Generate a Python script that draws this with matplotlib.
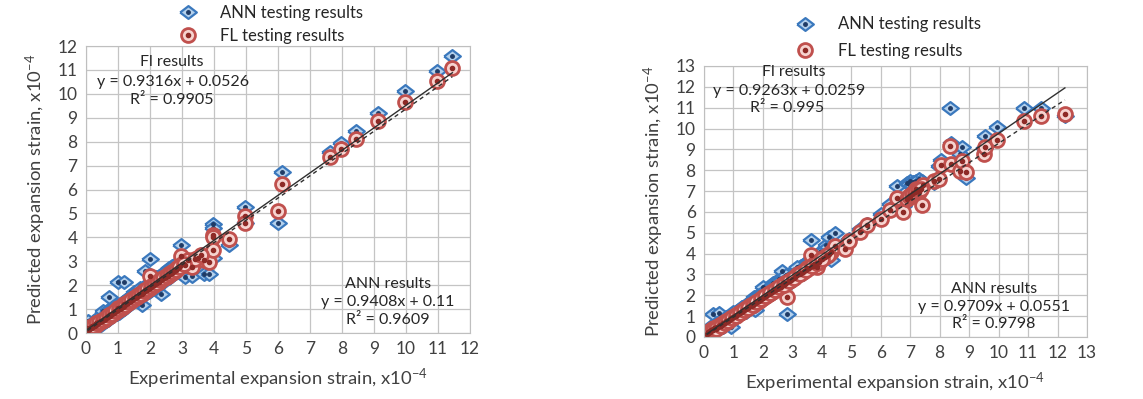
import matplotlib
matplotlib.use("Agg")
import matplotlib.pyplot as plt
from matplotlib.lines import Line2D
import numpy as np

plt.rcParams["font.family"] = ["Lato", "DejaVu Sans"]
plt.rcParams["mathtext.fontset"] = "custom"
plt.rcParams["mathtext.rm"] = "Lato"

# ---- left panel: experimental strain vs ANN / FL predictions (x1e-4) ----
exp_a = [0.05, 0.05, 0.08, 0.1, 0.12, 0.15, 0.18, 0.2, 0.22, 0.25, 0.28, 0.3, 0.33, 0.35,
         0.4, 0.42, 0.45, 0.5, 0.52, 0.55, 0.6, 0.65, 0.7, 0.73, 0.75, 0.8, 0.85, 0.9,
         0.95, 1.0, 1.0, 1.05, 1.1, 1.15, 1.2, 1.25, 1.3, 1.35, 1.4, 1.45, 1.5, 1.55,
         1.6, 1.65, 1.7, 1.76, 1.8, 1.85, 1.9, 1.95, 2.0, 2.0, 2.05, 2.1, 2.15, 2.2,
         2.25, 2.3, 2.36, 2.4, 2.45, 2.5, 2.55, 2.6, 2.65, 2.7, 2.75, 2.8, 2.85, 2.9,
         2.95, 2.97, 3.1, 3.3, 3.5, 3.7, 3.85, 3.98, 3.98, 3.98, 4.46, 4.97, 4.97,
         5.99, 6.13, 7.64, 7.97, 8.44, 9.13, 9.97, 10.97, 11.45,
         0.1, 0.15, 0.2, 0.25, 0.3, 0.38, 0.48, 0.58, 0.68, 0.78, 0.88, 0.98, 1.08,
         1.18, 1.28, 1.38, 1.48, 1.58, 1.68, 1.78, 1.88, 1.98, 2.08, 2.18, 2.28, 2.38,
         2.48, 2.58, 2.68, 2.78, 2.88, 3.0, 3.2, 3.4, 3.6,
         0.12, 0.22, 0.32, 0.42, 0.52, 0.62, 0.72, 0.82, 0.92, 1.02, 1.12, 1.22, 1.32,
         1.42, 1.52, 1.62, 1.72, 1.82, 1.92, 2.02, 2.12, 2.22, 2.32, 2.42, 2.52, 2.62,
         2.72, 2.82, 2.92, 3.05]
ann_a = [0.52, 0.15, 0.2, 0.3, 0.25, 0.35, 0.2, 0.4, 0.3, 0.45, 0.35, 0.5, 0.4, 0.6,
         0.45, 0.55, 0.7, 0.55, 0.9, 0.6, 0.75, 0.65, 0.95, 1.5, 0.8, 1.05, 0.9, 1.15,
         0.95, 2.14, 1.0, 1.2, 1.05, 1.3, 2.14, 1.25, 1.45, 1.3, 1.55, 1.4, 1.7, 1.45,
         1.75, 1.55, 1.9, 1.16, 1.85, 2.6, 1.95, 1.8, 3.11, 2.05, 1.95, 2.2, 2.05, 2.35,
         2.15, 2.4, 1.65, 2.5, 2.3, 2.6, 2.4, 2.7, 2.55, 2.8, 2.6, 2.85, 2.7, 2.9,
         2.8, 3.7, 2.35, 2.37, 3.1, 2.46, 2.46, 4.55, 4.4, 3.15, 3.67, 5.25, 4.62,
         4.58, 6.74, 7.55, 7.94, 8.44, 9.21, 10.12, 10.94, 11.58,
         0.1, 0.22, 0.15, 0.32, 0.22, 0.5, 0.35, 0.7, 0.55, 0.65, 1.0, 0.8, 1.2,
         1.0, 1.4, 1.2, 1.6, 1.35, 1.75, 1.55, 2.0, 1.7, 2.2, 1.9, 2.35, 2.1,
         2.55, 2.3, 2.75, 2.5, 2.95, 2.75, 2.95, 2.85, 3.3,
         0.25, 0.15, 0.45, 0.35, 0.6, 0.5, 0.8, 0.7, 1.0, 0.85, 1.2, 1.05, 1.4,
         1.25, 1.55, 1.45, 1.7, 1.65, 1.9, 1.8, 2.1, 2.0, 2.3, 2.2, 2.5, 2.35,
         2.65, 2.55, 2.85, 2.8]
fl_a = [0.2, 0.12, 0.15, 0.18, 0.2, 0.22, 0.25, 0.28, 0.3, 0.3, 0.33, 0.35, 0.38, 0.4,
        0.45, 0.45, 0.48, 0.52, 0.55, 0.55, 0.6, 0.65, 0.7, 0.72, 0.72, 0.78, 0.82, 0.88,
        0.92, 1.05, 0.98, 1.0, 1.05, 1.1, 1.2, 1.2, 1.25, 1.3, 1.35, 1.4, 1.45, 1.5,
        1.55, 1.58, 1.62, 1.65, 1.72, 1.8, 1.8, 1.85, 2.4, 1.9, 1.95, 2.0, 2.05, 2.1,
        2.12, 2.2, 2.2, 2.3, 2.3, 2.35, 2.4, 2.45, 2.5, 2.55, 2.6, 2.65, 2.7, 2.75,
        2.8, 3.2, 2.85, 2.75, 3.15, 3.05, 2.95, 4.09, 4.0, 3.46, 3.91, 4.9, 4.58,
        5.1, 6.23, 7.35, 7.69, 8.11, 8.86, 9.66, 10.52, 11.08,
        0.15, 0.22, 0.25, 0.3, 0.35, 0.4, 0.5, 0.58, 0.68, 0.78, 0.85, 0.95, 1.05,
        1.15, 1.25, 1.35, 1.42, 1.52, 1.62, 1.7, 1.8, 1.9, 2.0, 2.08, 2.15, 2.25,
        2.35, 2.45, 2.52, 2.62, 2.72, 2.9, 3.05, 3.1, 3.25,
        0.22, 0.28, 0.4, 0.45, 0.55, 0.62, 0.75, 0.8, 0.92, 1.0, 1.1, 1.18, 1.3,
        1.38, 1.48, 1.55, 1.65, 1.75, 1.85, 1.92, 2.02, 2.1, 2.2, 2.28, 2.38, 2.48,
        2.55, 2.65, 2.75, 2.9]

# ---- right panel ----
exp_b = [0.1, 0.12, 0.15, 0.18, 0.2, 0.22, 0.25, 0.28, 0.3, 0.32, 0.35, 0.38, 0.4,
         0.45, 0.5, 0.52, 0.55, 0.6, 0.65, 0.7, 0.75, 0.8, 0.85, 0.9, 0.92, 0.95, 1.0,
         1.05, 1.1, 1.15, 1.2, 1.25, 1.3, 1.35, 1.4, 1.45, 1.5, 1.55, 1.6, 1.65, 1.7,
         1.73, 1.8, 1.85, 1.9, 1.95, 2.0, 2.05, 2.1, 2.15, 2.2, 2.25, 2.3, 2.35, 2.4,
         2.45, 2.5, 2.55, 2.6, 2.66, 2.7, 2.75, 2.82, 2.9, 3.0, 3.1, 3.2, 3.3, 3.4,
         3.5, 3.63, 3.7, 3.82, 3.95, 4.05, 4.15, 4.25, 4.3, 4.44, 4.78, 4.93, 5.3,
         5.55, 6.0, 6.3, 6.55, 6.75, 6.9, 7.0, 7.1, 7.2, 7.3, 7.4, 7.45, 7.8, 7.98,
         8.03, 8.35, 8.4, 8.7, 8.75, 8.9, 9.5, 9.55, 9.93, 10.85, 11.43, 12.25,
         0.15, 0.25, 0.35, 0.45, 0.55, 0.65, 0.75, 0.85, 0.98, 1.12, 1.28, 1.42, 1.58,
         1.72, 1.88, 2.02, 2.18, 2.32, 2.48, 2.62, 2.78, 2.95, 3.15, 3.35, 3.55, 3.75,
         3.9, 4.1, 4.2, 6.95, 7.05, 7.15, 7.25, 7.35,
         0.2, 0.3, 0.42, 0.58, 0.7, 0.82, 0.95, 1.08, 1.22, 1.35, 1.5, 1.65, 1.78,
         1.95, 2.08, 2.25, 2.4, 2.55, 2.7, 2.88, 3.05, 3.25, 3.45, 3.65, 3.85, 4.0]
ann_b = [0.2, 0.35, 0.25, 0.4, 0.3, 0.5, 0.35, 0.3, 1.1, 0.45, 0.4, 0.6, 0.5,
         0.55, 1.15, 0.6, 0.7, 0.5, 0.75, 0.7, 0.8, 0.85, 0.75, 1.0, 0.5, 0.95, 1.15,
         1.05, 1.2, 1.1, 1.3, 1.25, 1.45, 1.35, 1.5, 1.45, 1.65, 1.6, 1.75, 1.7, 1.9,
         1.3, 1.95, 1.85, 2.05, 2.0, 2.4, 2.1, 2.2, 2.3, 2.2, 2.4, 2.35, 2.6, 2.45,
         2.6, 2.7, 2.8, 2.75, 3.18, 2.8, 2.9, 1.1, 3.0, 3.1, 3.2, 3.3, 3.4, 3.5,
         3.6, 4.65, 3.7, 3.6, 4.1, 3.9, 4.4, 4.8, 3.7, 5.0, 4.5, 4.7, 5.2,
         5.4, 5.9, 6.4, 7.25, 6.3, 7.4, 7.5, 7.45, 7.5, 7.6, 7.5, 7.4, 7.4, 8.2,
         8.5, 10.97, 9.3, 8.8, 9.1, 7.65, 9.05, 9.65, 10.05, 11.0, 11.0, 10.6,
         0.3, 0.2, 0.5, 0.35, 0.75, 0.5, 0.95, 0.7, 1.2, 0.95, 1.45, 1.2, 1.7,
         1.5, 2.0, 1.8, 2.3, 2.05, 2.6, 2.35, 2.95, 2.65, 3.35, 3.0, 3.6, 3.35,
         4.0, 3.8, 4.3, 7.35, 7.3, 7.45, 7.35, 7.5,
         0.25, 0.4, 0.45, 0.65, 0.7, 0.9, 0.95, 1.15, 1.25, 1.4, 1.5, 1.7, 1.8,
         1.95, 2.1, 2.25, 2.4, 2.5, 2.7, 2.85, 3.0, 3.2, 3.4, 3.6, 3.8, 3.95]
fl_b = [0.15, 0.2, 0.22, 0.25, 0.28, 0.3, 0.32, 0.35, 0.38, 0.4, 0.42, 0.45, 0.45,
        0.5, 0.55, 0.55, 0.58, 0.62, 0.65, 0.7, 0.75, 0.78, 0.82, 0.88, 0.9, 0.92, 0.98,
        1.0, 1.05, 1.1, 1.15, 1.2, 1.25, 1.28, 1.32, 1.38, 1.42, 1.48, 1.52, 1.55, 1.6,
        1.62, 1.7, 1.75, 1.78, 1.82, 1.88, 1.92, 1.98, 2.0, 2.05, 2.1, 2.15, 2.2, 2.25,
        2.3, 2.35, 2.4, 2.42, 2.5, 2.52, 2.58, 1.9, 2.7, 2.8, 2.9, 3.0, 3.05, 3.15,
        3.3, 3.95, 3.4, 3.35, 3.7, 3.8, 3.9, 4.0, 4.1, 4.35, 4.2, 4.6, 5.05,
        5.35, 5.65, 6.1, 6.65, 6.0, 6.6, 6.7, 6.9, 7.1, 6.95, 6.35, 7.3, 7.5, 7.6,
        8.25, 9.15, 8.3, 7.95, 8.45, 7.9, 8.8, 9.1, 9.45, 10.35, 10.6, 10.72,
        0.2, 0.3, 0.38, 0.45, 0.55, 0.62, 0.72, 0.8, 0.95, 1.05, 1.2, 1.35, 1.5,
        1.62, 1.75, 1.9, 2.05, 2.18, 2.32, 2.45, 2.6, 2.75, 2.95, 3.1, 3.3, 3.5,
        3.6, 3.85, 3.95, 6.75, 6.85, 6.95, 7.05, 7.1,
        0.22, 0.32, 0.4, 0.55, 0.68, 0.78, 0.9, 1.02, 1.15, 1.28, 1.4, 1.55, 1.68,
        1.82, 1.95, 2.1, 2.25, 2.38, 2.5, 2.68, 2.85, 3.0, 3.2, 3.4, 3.55, 3.72]

panels = [
    dict(x=exp_a, ann=ann_a, fl=fl_a, lim=12,
         fl_fit=(0.9316, 0.0526, 0.9905), ann_fit=(0.9408, 0.11, 0.9609),
         rect=[0.0752, 0.1654, 0.336, 0.7193],
         fl_pos=[(0.224, 0.944), (0.029, 0.875), (0.224, 0.812)],
         ann_pos=[(0.786, 0.171), (0.786, 0.108), (0.786, 0.045)],
         leg_anchor=(0.215, 0.985), leg_space=0.4),
    dict(x=exp_b, ann=ann_b, fl=fl_b, lim=13,
         fl_fit=(0.9263, 0.0259, 0.995), ann_fit=(0.9709, 0.0551, 0.9798),
         rect=[0.6159, 0.1554, 0.3351, 0.6792],
         fl_pos=[(0.235, 0.978), (0.0235, 0.908), (0.217, 0.845)],
         ann_pos=[(0.757, 0.177), (0.757, 0.112), (0.757, 0.048)],
         leg_anchor=(0.215, 1.0), leg_space=0.65),
]

ANN_FACE, ANN_EDGE, ANN_DOT = "#b3d0ec", "#3a78bd", "#1f3b66"
FL_FACE, FL_EDGE, FL_DOT = "#f6d3cf", "#c0504d", "#8e2a26"
TXT = "#404040"
DIAMOND = [(-1.3, 0), (0, 1), (1.3, 0), (0, -1), (-1.3, 0)]


def ann_style(ms=12):
    return dict(ls="none", marker=DIAMOND, ms=ms, mfc=ANN_FACE, mec=ANN_EDGE, mew=1.6)


def fl_style(ms=10):
    return dict(ls="none", marker="o", ms=ms, mfc=FL_FACE, mec=FL_EDGE, mew=2.0)


fig = plt.figure(figsize=(11.43, 3.99), dpi=100)

for p in panels:
    ax = fig.add_axes(p["rect"])
    x = np.array(p["x"])
    ax.plot(x, p["ann"], **ann_style())
    ax.plot(x, p["ann"], ls="none", marker="o", ms=2.5, mfc=ANN_DOT, mec=ANN_DOT)
    ax.plot(x, p["fl"], **fl_style())
    ax.plot(x, p["fl"], ls="none", marker="o", ms=3, mfc=FL_DOT, mec=FL_DOT)

    # linear trendlines: ANN solid, FL dashed
    xs = np.array([x.min(), x.max()])
    a, b, _ = p["ann_fit"]
    ax.plot(xs, a * xs + b, color="#303030", lw=1.0)
    a, b, _ = p["fl_fit"]
    ax.plot(xs, a * xs + b, color="#303030", lw=1.0, ls=(0, (3, 2.5)))

    lim = p["lim"]
    ax.set_xlim(0, lim)
    ax.set_ylim(0, lim)
    ax.set_xticks(range(lim + 1))
    ax.set_yticks(range(lim + 1))
    ax.grid(color="#c4c4c4", lw=0.9)
    ax.set_axisbelow(True)
    for s in ax.spines.values():
        s.set_color("#bfbfbf")
    ax.tick_params(length=0, labelsize=12.5, labelcolor=TXT, pad=6)
    ax.set_xlabel(r"Experimental expansion strain, x10$\mathregular{^{-4}}$",
                  fontsize=13.3, color=TXT, labelpad=7)
    ax.set_ylabel(r"Predicted expansion strain, x10$\mathregular{^{-4}}$",
                  fontsize=13.3, color=TXT, labelpad=7)

    a, b, r2 = p["fl_fit"]
    for (tx, ty), s, ha in zip(p["fl_pos"],
                               ["Fl results", f"y = {a}x + {b}", f"R² = {r2}"],
                               ["center", "left", "center"]):
        ax.text(tx, ty, s, transform=ax.transAxes, ha=ha, va="center",
                fontsize=11.5, color="#262626")
    a, b, r2 = p["ann_fit"]
    for (tx, ty), s in zip(p["ann_pos"],
                           ["ANN results", f"y = {a}x + {b}", f"R² = {r2}"]):
        ax.text(tx, ty, s, transform=ax.transAxes, ha="center", va="center",
                fontsize=11.5, color="#262626")

    ann_h = (Line2D([], [], **ann_style()),
             Line2D([], [], ls="none", marker="o", ms=2.5, mfc=ANN_DOT, mec=ANN_DOT))
    fl_h = (Line2D([], [], **fl_style()),
            Line2D([], [], ls="none", marker="o", ms=3, mfc=FL_DOT, mec=FL_DOT))
    ax.legend([ann_h, fl_h], ["ANN testing results", "FL testing results"],
              loc="lower left", bbox_to_anchor=p["leg_anchor"], frameon=False,
              fontsize=12, handlelength=1.5, handletextpad=1.2,
              labelspacing=p["leg_space"], borderaxespad=0, labelcolor="#262626")

fig.savefig("out.png", dpi=100, facecolor="white")
